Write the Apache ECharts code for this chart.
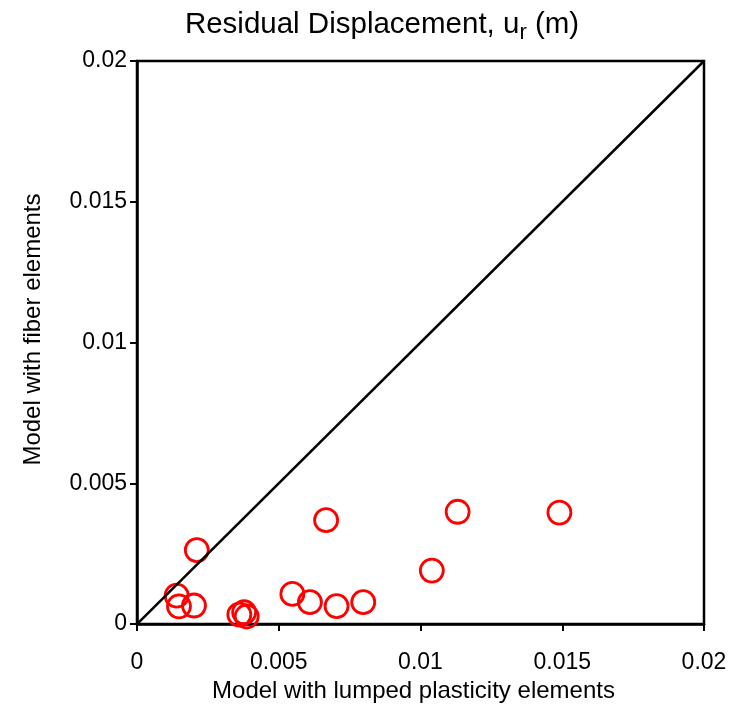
<!DOCTYPE html>
<html>
<head>
<meta charset="utf-8">
<script src="https://cdn.jsdelivr.net/npm/echarts@6/dist/echarts.min.js"></script>
<style>html,body{margin:0;padding:0;background:#fff;}#c{width:737px;height:708px;}</style>
</head>
<body>
<div id="c"></div>
<script>
// Lumped plasticity model residual displacement (x) vs fiber model (y), m
var lumpedX = [0.00211, 0.00140, 0.00148, 0.00201, 0.00361, 0.00378, 0.00387, 0.00667, 0.00548, 0.00610, 0.00704, 0.00798, 0.01040, 0.01131, 0.01490];
var fiberY  = [0.00263, 0.00101, 0.00063, 0.00066, 0.00034, 0.00042, 0.00027, 0.00369, 0.00107, 0.00078, 0.00064, 0.00078, 0.00190, 0.00399, 0.00396];
var lineX = [0, 0.02];
var lineY = [0, 0.02];
var ticks = [0, 0.005, 0.01, 0.015, 0.02];

var pts = lumpedX.map(function (x, i) { return [x, fiberY[i]]; });
var diag = lineX.map(function (x, i) { return [x, lineY[i]]; });

var font = '"Liberation Sans", Arial, sans-serif';
var chart = echarts.init(document.getElementById('c'), null, {renderer: 'canvas'});
chart.setOption({
  animation: false,
  backgroundColor: '#fff',
  title: {
    text: '{a|Residual Displacement, u}{s|r}{a| (m)}',
    left: 377, textAlign: 'center', top: 1,
    textStyle: {
      fontFamily: font, fontWeight: 'normal',
      rich: {
        a: {fontFamily: font, fontWeight: 'normal', fontSize: 29.5, color: '#000', lineHeight: 38},
        s: {fontFamily: font, fontWeight: 'normal', fontSize: 22, color: '#000', lineHeight: 25, verticalAlign: 'bottom'}
      }
    }
  },
  grid: {left: 137, right: 33, top: 61, bottom: 79, show: true, borderColor: '#000', borderWidth: 2.5, backgroundColor: 'transparent'},
  xAxis: {
    type: 'value', min: 0, max: 0.02, interval: 0.005,
    name: 'Model with lumped plasticity elements', nameLocation: 'middle', nameGap: 54,
    nameTextStyle: {fontFamily: font, fontSize: 24, color: '#000', padding: [0, 14, 0, 0]},
    axisLine: {show: true, lineStyle: {color: '#000', width: 2.5}},
    axisTick: {show: true, inside: false, length: 7, lineStyle: {color: '#000', width: 2}},
    axisLabel: {fontFamily: font, fontSize: 23, color: '#000', margin: 27,
      formatter: function (v) { return String(+v.toFixed(4)); }},
    splitLine: {show: false}
  },
  yAxis: {
    type: 'value', min: 0, max: 0.02, interval: 0.005,
    name: 'Model with fiber elements', nameLocation: 'middle', nameGap: 92,
    nameTextStyle: {fontFamily: font, fontSize: 24, color: '#000', padding: [0, 0, 0, 26]},
    axisLine: {show: true, lineStyle: {color: '#000', width: 2.5}},
    axisTick: {show: true, inside: false, length: 7, lineStyle: {color: '#000', width: 2}},
    axisLabel: {fontFamily: font, fontSize: 23, color: '#000', margin: 10,
      formatter: function (v) { return String(+v.toFixed(4)); }},
    splitLine: {show: false}
  },
  series: [
    {
      type: 'line', data: diag, symbol: 'none', silent: true,
      lineStyle: {color: '#000', width: 2.5}
    },
    {
      type: 'scatter', data: pts, symbol: 'circle', symbolSize: 23,
      itemStyle: {color: 'rgba(0,0,0,0)', borderColor: '#ff0000', borderWidth: 2.8, opacity: 1}
    }
  ]
});
</script>
</body>
</html>
